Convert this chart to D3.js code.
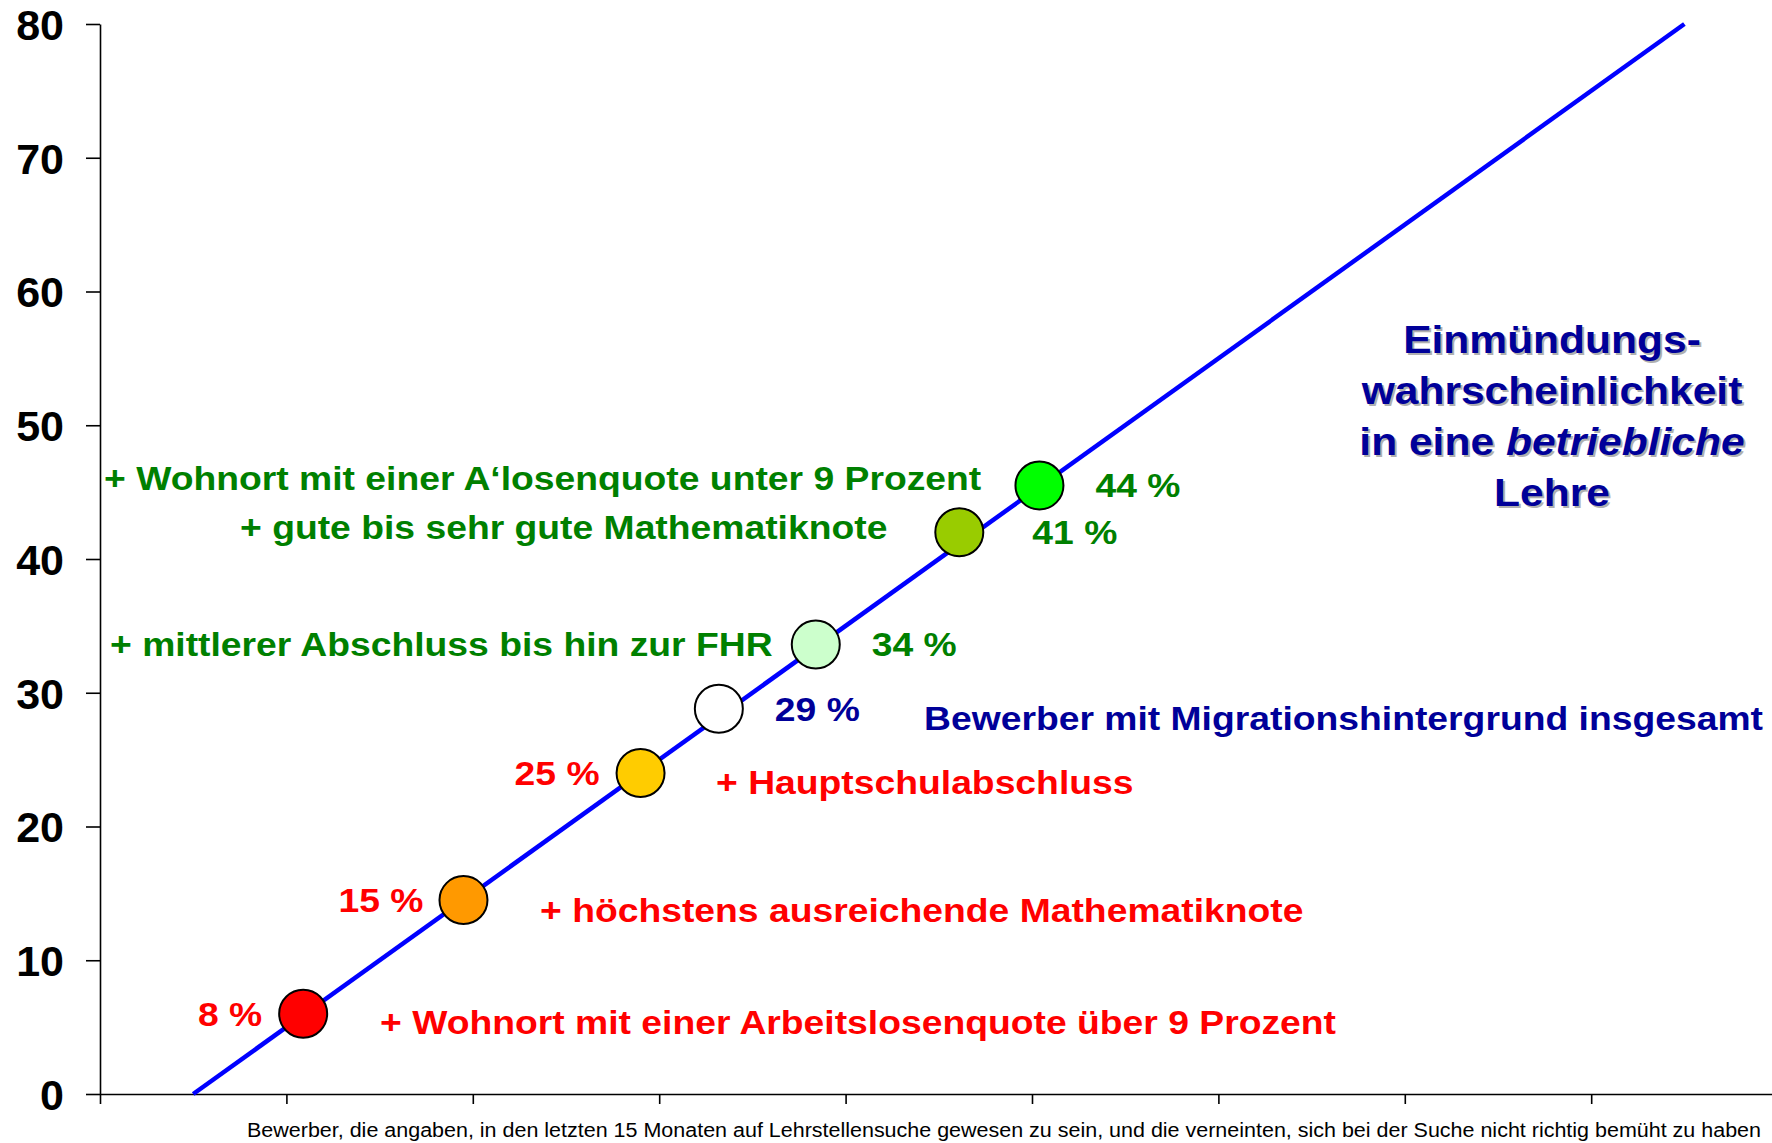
<!DOCTYPE html>
<html>
<head>
<meta charset="utf-8">
<script src="https://cdn.jsdelivr.net/npm/d3@7"></script>
<style>
  body { margin: 0; background: white; }
  svg { display: block; font-family: "Liberation Sans", Arial, sans-serif; }
</style>
</head>
<body>
<svg id="chart"></svg>
<script>
// data
const pointX = [1.09, 1.95, 2.9, 3.32, 3.84, 4.61, 5.04];
const pointY = [6, 14.5, 24, 28.8, 33.6, 42, 45.5];
const pointLabels = ["8 %", "15 %", "25 %", "29 %", "34 %", "41 %", "44 %"];
const pointColors = ["#ff0000", "#ff9900", "#ffcc00", "#ffffff", "#ccffcc", "#99cc00", "#00ff00"];
const labelColors = ["#ff0000", "#ff0000", "#ff0000", "#000099", "#008000", "#008000", "#008000"];

const lineX = [0.5, 8.5];
const lineY = [0, 80];

const yTicks = [0, 10, 20, 30, 40, 50, 60, 70, 80];
const xTicks = [0, 1, 2, 3, 4, 5, 6, 7, 8];

const notes = [
  "+ Wohnort mit einer Arbeitslosenquote über 9 Prozent",
  "+ höchstens ausreichende Mathematiknote",
  "+ Hauptschulabschluss",
  "Bewerber mit Migrationshintergrund insgesamt",
  "+ mittlerer Abschluss bis hin zur FHR",
  "+ gute bis sehr gute Mathematiknote",
  "+ Wohnort mit einer A‘losenquote unter 9 Prozent"
];
const titleLines = ["Einmündungs-", "wahrscheinlichkeit", "in eine |betriebliche", "Lehre"];
const footer = "Bewerber, die angaben, in den letzten 15 Monaten auf Lehrstellensuche gewesen zu sein, und die verneinten, sich bei der Suche nicht richtig bemüht zu haben";

const w = 1772, h = 1143;
const svg = d3.select("#chart").attr("width", w).attr("height", h);

const x = d3.scaleLinear().domain([0, 8.97]).range([100, 1772]);
const y = d3.scaleLinear().domain([0, 80]).range([1094, 24]);

// the original font is a bit wider than Liberation Sans
const wide = 1.13;

// axes
const yAxis = d3.axisLeft(y).tickValues(yTicks).tickSize(14).tickSizeOuter(0).tickPadding(22);
const gy = svg.append("g").attr("transform", `translate(${x(0)},0)`).call(yAxis);
gy.selectAll("text").style("font-size", "43px").style("font-weight", "bold")
  .attr("fill", "#000").attr("dy", "0.36em");
gy.selectAll("line, path").attr("stroke", "#000").attr("stroke-width", 1.6);

const xAxis = d3.axisBottom(x).tickValues(xTicks).tickSize(10).tickSizeOuter(0).tickFormat("");
const gx = svg.append("g").attr("transform", `translate(0,${y(0)})`).call(xAxis);
gx.selectAll("line, path").attr("stroke", "#000").attr("stroke-width", 1.6);

// blue line
svg.append("path")
   .datum(lineX.map((d, i) => [d, lineY[i]]))
   .attr("d", d3.line().x(d => x(d[0])).y(d => y(d[1])))
   .attr("stroke", "#0000ff").attr("stroke-width", 4.5).attr("fill", "none");

// points
const pts = pointX.map((d, i) => ({x: d, y: pointY[i], label: pointLabels[i], fill: pointColors[i], color: labelColors[i]}));
svg.selectAll("circle.dot").data(pts).enter().append("circle")
   .attr("class", "dot")
   .attr("cx", d => x(d.x)).attr("cy", d => y(d.y)).attr("r", 24)
   .attr("fill", d => d.fill).attr("stroke", "#000").attr("stroke-width", 2);

// percentage labels: left of the first three, right of the others
const labelDx = [-41, -40, -41, 56, 56, 73, 56];
svg.selectAll("text.pct").data(pts).enter().append("text")
   .attr("class", "pct")
   .attr("transform", (d, i) => `translate(${x(d.x) + labelDx[i]},${y(d.y)}) scale(${wide},1)`)
   .attr("dy", "0.36em")
   .attr("text-anchor", (d, i) => labelDx[i] < 0 ? "end" : "start")
   .attr("fill", d => d.color)
   .style("font-size", "33px").style("font-weight", "bold")
   .text(d => d.label);

// annotation texts
const notePos = [[380, 1022], [540, 910], [716, 782], [924, 718], [110, 644], [240, 527], [104, 478]];
const noteColors = ["#ff0000", "#ff0000", "#ff0000", "#000099", "#008000", "#008000", "#008000"];
svg.selectAll("text.note").data(notes).enter().append("text")
   .attr("class", "note")
   .attr("transform", (d, i) => `translate(${notePos[i][0]},${notePos[i][1]}) scale(${wide},1)`)
   .attr("dy", "0.36em")
   .attr("fill", (d, i) => noteColors[i])
   .style("font-size", "33px").style("font-weight", "bold")
   .text(d => d);

// title on the right, with a grey shadow
function titleText(g, dx, color) {
  titleLines.forEach((line, i) => {
    const t = g.append("text")
      .attr("transform", `translate(${1552 + dx},${339 + i * 51 + dx}) scale(1.12,1)`)
      .attr("dy", "0.36em")
      .attr("text-anchor", "middle").attr("fill", color)
      .style("font-size", "38px").style("font-weight", "bold");
    line.split("|").forEach((part, j) => {
      t.append("tspan").style("font-style", j === 1 ? "italic" : "normal").text(part);
    });
  });
}
titleText(svg.append("g"), 2, "#b0b0b0");
titleText(svg.append("g"), 0, "#000099");

// footer
svg.append("text")
   .attr("x", 247).attr("y", 1137)
   .attr("fill", "#000")
   .attr("textLength", 1514).attr("lengthAdjust", "spacingAndGlyphs")
   .style("font-size", "20px")
   .text(footer);
</script>
</body>
</html>
